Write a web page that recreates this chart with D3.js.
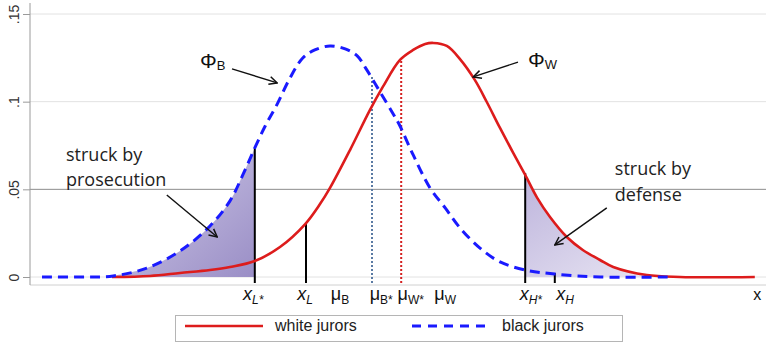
<!DOCTYPE html>
<html>
    <head>
        <meta charset="utf-8">
        <title>Juror distributions</title>
        <script src="https://d3js.org/d3.v7.min.js"></script>
        <style>
            body { margin: 0; background: #fff; }
        </style>
    </head>
    <body>
        <script>
            // curves: x in arbitrary units, y = density
            const blackX = [1.5, 6.25, 10.4, 14.6, 18.75, 22.5, 25, 26.6, 28.1, 29.4, 30.9, 32.5, 34.1, 35.6, 37.5, 39.4, 40.9, 42.1, 43.75, 45.4, 46.25, 47.9, 50, 51.9, 53.75, 56.25, 58.75, 61.9, 65.6, 71.25, 79.75];
            const blackY = [0, 0, 0.0006, 0.0051, 0.0148, 0.0291, 0.0434, 0.0582, 0.0736, 0.0861, 0.0986, 0.1135, 0.1249, 0.1295, 0.1318, 0.1301, 0.1261, 0.1181, 0.1056, 0.093, 0.0861, 0.0696, 0.0508, 0.0394, 0.028, 0.0165, 0.0086, 0.004, 0.0017, 0, 0];

            const whiteX = [10.25, 15, 18.75, 22.5, 25, 28.1, 31.25, 34.4, 36.25, 37.5, 40, 42.5, 44.1, 46.25, 47.9, 49.4, 50.4, 52.1, 53.75, 55.6, 57.1, 58.75, 60.4, 61.9, 63.4, 65, 67.1, 69.1, 71.25, 72.9, 77.1, 81.25, 90.6];
            const whiteY = [0, 0.0006, 0.0023, 0.004, 0.0057, 0.0091, 0.0171, 0.0302, 0.0416, 0.0508, 0.0724, 0.0953, 0.1084, 0.1238, 0.1295, 0.1329, 0.1335, 0.1318, 0.1243, 0.1124, 0.0998, 0.085, 0.0708, 0.0582, 0.0451, 0.0342, 0.0228, 0.0154, 0.0097, 0.0057, 0.0011, 0, 0];

            const yTicks = [0, 0.05, 0.1, 0.15];
            const yTickLabels = ["0", ".05", ".1", ".15"];

            // cut-off markers on the x axis
            const markMain = ["x", "x", "μ", "μ", "μ", "μ", "x", "x"];
            const markSub = ["L*", "L", "B", "B*", "W*", "W", "H*", "H"];
            const markLabelX = [27.9, 34.4, 38.75, 43.9, 47.6, 51.9, 62.6, 66.9];

            // vertical lines: position, top value, style
            const lineX = [28.1, 34.5, 42.75, 46.4, 61.9, 65.6];
            const lineTop = [0.0736, 0.0302, 0.1141, 0.1238, 0.0593, 0.0023];
            const lineKind = ["solid", "solid", "dotB", "dotW", "solid", "solid"];

            const legendNames = ["white jurors", "black jurors"];

            const svgWidth = 766;
            const svgHeight = 346;

            const svg = d3.select("body")
                .append("svg")
                    .attr("width", svgWidth)
                    .attr("height", svgHeight)
                    .style("font-family", "Liberation Sans, Arial, sans-serif");

            const xScale = d3.scaleLinear().domain([0, 92]).range([30, 766]);
            const yScale = d3.scaleLinear().domain([0, 0.15]).range([277, 14]);

            const black = blackX.map((d, i) => ({ x: d, y: blackY[i] }));
            const white = whiteX.map((d, i) => ({ x: d, y: whiteY[i] }));

            const defs = svg.append("defs");
            const g1 = defs.append("linearGradient").attr("id", "shadeL")
                .attr("x1", "0").attr("y1", "0").attr("x2", "1").attr("y2", "1");
            g1.append("stop").attr("offset", "0%").attr("stop-color", "#d4cfea");
            g1.append("stop").attr("offset", "100%").attr("stop-color", "#9a8ec6");
            const g2 = defs.append("linearGradient").attr("id", "shadeR")
                .attr("x1", "0").attr("y1", "0").attr("x2", "1").attr("y2", "1");
            g2.append("stop").attr("offset", "0%").attr("stop-color", "#bdb4dc");
            g2.append("stop").attr("offset", "100%").attr("stop-color", "#ece9f5");
            defs.append("marker").attr("id", "arrow")
                .attr("viewBox", "0 0 10 10").attr("refX", 9).attr("refY", 5)
                .attr("markerWidth", 10).attr("markerHeight", 10)
                .attr("markerUnits", "userSpaceOnUse")
                .attr("orient", "auto")
                .append("path").attr("d", "M1,1 L9,5 L1,9")
                .attr("fill", "none").attr("stroke", "#111").attr("stroke-width", 1.5);

            // gridlines
            svg.append("g")
                .selectAll("line")
                .data(yTicks)
                .join("line")
                    .attr("x1", 30).attr("x2", svgWidth)
                    .attr("y1", d => yScale(d)).attr("y2", d => yScale(d))
                    .attr("stroke", d => d === 0.05 ? "#8c8c8c" : "#e2e2e2")
                    .attr("stroke-width", 1);

            // axes frame
            svg.append("line").attr("x1", 30).attr("x2", svgWidth)
                .attr("y1", 285).attr("y2", 285).attr("stroke", "#d0d0d0");
            svg.append("line").attr("x1", 30).attr("x2", 30)
                .attr("y1", 3).attr("y2", 285).attr("stroke", "#9a9a9a");

            const yAxis = d3.axisLeft(yScale)
                .tickValues(yTicks)
                .tickSize(7)
                .tickFormat((d, i) => yTickLabels[i]);
            const ya = svg.append("g")
                .attr("transform", "translate(30,0)")
                .call(yAxis);
            ya.select(".domain").remove();
            ya.selectAll(".tick line").attr("stroke", "#9a9a9a");
            ya.selectAll(".tick text")
                .attr("x", null).attr("dy", null)
                .attr("transform", "translate(-11,0) rotate(-90)")
                .attr("text-anchor", "middle")
                .attr("fill", "#333")
                .style("font-size", "14px")
                .style("font-family", "Liberation Sans, Arial, sans-serif");

            const line = d3.line()
                .x(d => xScale(d.x))
                .y(d => yScale(d.y))
                .curve(d3.curveCatmullRom.alpha(0.5));

            const areaL = d3.area()
                .x(d => xScale(d.x))
                .y0(yScale(0))
                .y1(d => yScale(d.y))
                .curve(d3.curveCatmullRom.alpha(0.5));

            // shaded tails
            svg.append("path")
                .datum(black.filter(d => d.x >= 10.4 && d.x <= 28.1))
                .attr("d", areaL)
                .attr("fill", "url(#shadeL)");
            svg.append("path")
                .datum(white.filter(d => d.x >= 61.9 && d.x <= 81.25))
                .attr("d", areaL)
                .attr("fill", "url(#shadeR)");

            // vertical lines
            svg.append("g")
                .selectAll("line")
                .data(lineX)
                .join("line")
                    .attr("x1", d => xScale(d)).attr("x2", d => xScale(d))
                    .attr("y1", 283)
                    .attr("y2", (d, i) => yScale(lineTop[i]))
                    .attr("stroke", (d, i) => lineKind[i] === "dotB" ? "#5a7aa3" : lineKind[i] === "dotW" ? "#d42020" : "#000")
                    .attr("stroke-width", 2)
                    .attr("stroke-dasharray", (d, i) => lineKind[i] === "solid" ? null : "2,2");

            // curves
            svg.append("path")
                .datum(white)
                .attr("d", line)
                .attr("fill", "none")
                .attr("stroke", "#dd1c1c")
                .attr("stroke-width", 2.6);
            svg.append("path")
                .datum(black)
                .attr("d", line)
                .attr("fill", "none")
                .attr("stroke", "#1a1aff")
                .attr("stroke-width", 3)
                .attr("stroke-dasharray", "10,6");

            // x axis marker labels
            const ml = svg.append("g")
                .selectAll("text")
                .data(markMain)
                .join("text")
                    .attr("x", (d, i) => xScale(markLabelX[i]))
                    .attr("y", 300)
                    .attr("text-anchor", "middle")
                    .style("font-size", "18px")
                    .attr("fill", "#111");
            ml.append("tspan")
                .text(d => d)
                .style("font-style", d => d === "x" ? "italic" : "normal");
            ml.append("tspan")
                .attr("dy", 4)
                .style("font-size", "12px")
                .style("font-style", (d, i) => markMain[i] === "x" ? "italic" : "normal")
                .text((d, i) => markSub[i]);

            svg.append("text")
                .attr("x", xScale(90.9)).attr("y", 300)
                .attr("text-anchor", "middle")
                .style("font-size", "16px")
                .attr("fill", "#111")
                .text("x");

            // Phi labels
            const phiX = [21.25, 62.25];
            const phiY = [0.1192, 0.1198];
            const phiSub = ["B", "W"];
            const pl = svg.append("g")
                .selectAll("text")
                .data(phiSub)
                .join("text")
                    .attr("x", (d, i) => xScale(phiX[i]))
                    .attr("y", (d, i) => yScale(phiY[i]))
                    .attr("fill", "#111")
                    .style("font-size", "21px");
            pl.append("tspan").text("Φ");
            pl.append("tspan").attr("dy", 2).style("font-size", "13px").text(d => d);

            // annotation text
            const noteX = [4.5, 4.5, 73.1, 73.1];
            const noteY = [0.0662, 0.0519, 0.0582, 0.0434];
            const noteText = ["struck by", "prosecution", "struck by", "defense"];
            svg.append("g")
                .selectAll("text")
                .data(noteText)
                .join("text")
                    .attr("x", (d, i) => xScale(noteX[i]))
                    .attr("y", (d, i) => yScale(noteY[i]))
                    .attr("fill", "#222")
                    .style("font-family", "Open Sans, sans-serif")
                    .style("font-size", "18px")
                    .text(d => d);

            // arrows
            const arrowFrom = [[25.25, 0.1187], [61, 0.1226], [17.1, 0.0468], [72.1, 0.0394]];
            const arrowTo = [[30.9, 0.1107], [55.4, 0.1141], [23.4, 0.0228], [65.6, 0.0183]];
            svg.append("g")
                .selectAll("line")
                .data(arrowFrom)
                .join("line")
                    .attr("x1", d => xScale(d[0])).attr("y1", d => yScale(d[1]))
                    .attr("x2", (d, i) => xScale(arrowTo[i][0]))
                    .attr("y2", (d, i) => yScale(arrowTo[i][1]))
                    .attr("stroke", "#111")
                    .attr("stroke-width", 1.4)
                    .attr("marker-end", "url(#arrow)");

            // legend
            const leg = svg.append("g");
            leg.append("rect")
                .attr("x", 175.5).attr("y", 315.5)
                .attr("width", 447).attr("height", 26)
                .attr("fill", "#fff").attr("stroke", "#b5b5b5");
            const legItems = leg.selectAll("g")
                .data(legendNames)
                .join("g")
                    .attr("transform", (d, i) => `translate(${i === 0 ? 185 : 412},326)`);
            legItems.append("line")
                .attr("x1", 0).attr("x2", 78)
                .attr("stroke", (d, i) => i === 0 ? "#dd1c1c" : "#1a1aff")
                .attr("stroke-width", (d, i) => i === 0 ? 2.6 : 3)
                .attr("stroke-dasharray", (d, i) => i === 0 ? null : "9,7");
            legItems.append("text")
                .attr("x", 90).attr("y", 5)
                .style("font-size", "16px")
                .attr("fill", "#222")
                .text(d => d);
        </script>
    </body>
</html>
